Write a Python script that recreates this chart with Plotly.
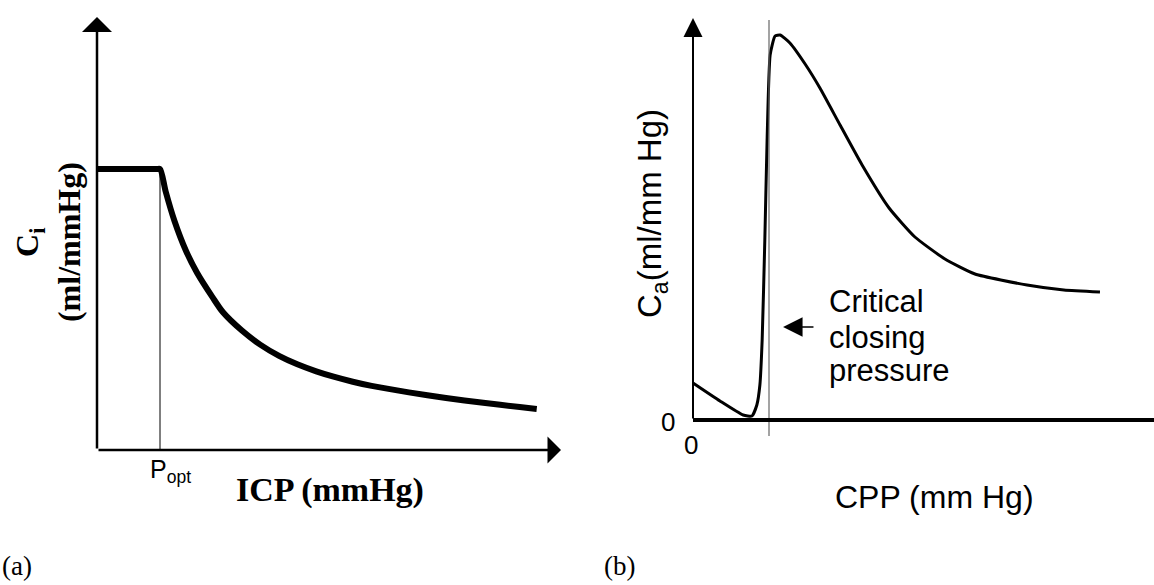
import plotly.graph_objects as go

# ---------------- data ----------------
# Panel (a): intracranial compliance vs ICP (arbitrary units)
icp_a = [0, 9.5, 10, 10.9, 12.3, 14.1, 15.9, 18.3, 20, 23, 25.9, 28.9, 31.8, 34.8,
         37.7, 40.6, 43.6, 49.5, 55.4, 61.3, 67.1, 69.8]
ci_a = [1.0, 1.0, 1.0, 0.92, 0.815, 0.71, 0.63, 0.545, 0.49, 0.425, 0.375, 0.335,
        0.305, 0.28, 0.26, 0.243, 0.228, 0.205, 0.185, 0.168, 0.153, 0.146]
p_opt = 10

# Panel (b): arterial compliance vs CPP
cpp_b = [0, 7.1, 13.2, 15.5, 16.8, 17.6, 18.2, 18.9, 19.5, 20.3, 21.6, 22.9, 25.5,
         29.5, 33.4, 38.7, 44.5, 51.6, 58.4, 66.3, 74.2, 87.9, 97.6, 107.1]
ca_b = [9.25, 4.75, 1.25, 1.0, 3.75, 8.75, 20, 45, 70, 91.25, 96, 96.25, 94.25,
        89, 83, 73.75, 63.75, 53, 45.75, 40.25, 36.5, 33.75, 32.5, 32]
ccp = 20  # critical closing pressure

# ---------------- figure ----------------
W, H = 1154, 585
fig = go.Figure()

fig.add_trace(go.Scatter(x=icp_a, y=ci_a, mode="lines", xaxis="x", yaxis="y",
                         line=dict(color="black", width=6, shape="spline",
                                   smoothing=0.8),
                         showlegend=False, hoverinfo="skip"))
fig.add_trace(go.Scatter(x=cpp_b, y=ca_b, mode="lines", xaxis="x2", yaxis="y2",
                         line=dict(color="black", width=3, shape="spline",
                                   smoothing=0.5),
                         showlegend=False, hoverinfo="skip"))

ax_common = dict(visible=False, showgrid=False, zeroline=False, fixedrange=True)
fig.update_layout(
    width=W, height=H,
    margin=dict(l=0, r=0, t=0, b=0),
    paper_bgcolor="white", plot_bgcolor="white",
    xaxis=dict(domain=[0, 0.5], range=[-97 / 6.3, (577 - 97) / 6.3], **ax_common),
    yaxis=dict(domain=[0, 1], range=[(450 - 585) / 281, 450 / 281], **ax_common),
    xaxis2=dict(domain=[0.5, 1], range=[(577 - 693) / 3.8, (1154 - 693) / 3.8],
                anchor="y2", **ax_common),
    yaxis2=dict(domain=[0, 1], range=[(420 - 585) / 4, 420 / 4], anchor="x2",
                **ax_common),
)

shapes = []
# panel (a) P_opt guide line
shapes.append(dict(type="line", xref="x", yref="y", x0=p_opt, x1=p_opt, y0=0,
                   y1=ci_a[2], line=dict(color="black", width=1)))
# panel (b) critical closing pressure guide line
shapes.append(dict(type="line", xref="x2", yref="y2", x0=ccp, x1=ccp, y0=-4,
                   y1=100, line=dict(color="#666666", width=1.2)))
# panel (b) x axis
shapes.append(dict(type="line", xref="x2", yref="y2", x0=0, x1=130, y0=0,
                   y1=0, line=dict(color="black", width=4)))
fig.update_layout(shapes=shapes)

serif = "Liberation Serif, Times New Roman, serif"
sans = "Liberation Sans, Arial, sans-serif"

ann = []
# axes with arrowheads, panel (a)
ann.append(dict(xref="x", yref="y", axref="x", ayref="y", x=0, y=1.541, ax=0, ay=0,
                text="", showarrow=True, arrowhead=1, arrowwidth=2.5,
                arrowsize=2.0, arrowcolor="black"))
ann.append(dict(xref="x", yref="y", axref="x", ayref="y", x=73.65, y=0, ax=0, ay=0,
                text="", showarrow=True, arrowhead=1, arrowwidth=2.5,
                arrowsize=1.8, arrowcolor="black"))
# y axis with arrowhead, panel (b)
ann.append(dict(xref="x2", yref="y2", axref="x2", ayref="y2", x=0, y=100.5, ax=0,
                ay=0, text="", showarrow=True, arrowhead=2, arrowwidth=2,
                arrowsize=1.9, arrowcolor="black"))
# critical closing pressure arrow
ann.append(dict(xref="x2", yref="y2", axref="x2", ayref="y2", x=23.7, y=23.25,
                ax=32.1, ay=23.25, text="", showarrow=True, arrowhead=2,
                arrowwidth=1.5, arrowsize=2.6, arrowcolor="black"))

# panel (a) texts
ann.append(dict(xref="x", yref="y", x=(30 - 97) / 6.3, y=0.737, text="<b>C<sub>i</sub></b>",
                showarrow=False, textangle=-90,
                font=dict(family=serif, size=32, color="black")))
ann.append(dict(xref="x", yref="y", x=(69 - 97) / 6.3, y=0.740, text="<b>(ml/mmHg)</b>",
                showarrow=False, textangle=-90,
                font=dict(family=serif, size=32, color="black")))
ann.append(dict(xref="x", yref="y", x=8.1, y=-0.0107, text="P<sub>opt</sub>",
                showarrow=False, xanchor="left", yanchor="top",
                font=dict(family=sans, size=25, color="black")))
ann.append(dict(xref="x", yref="y", x=36.98, y=-0.142, text="<b>ICP (mmHg)</b>",
                showarrow=False, font=dict(family=serif, size=34, color="black")))
ann.append(dict(xref="x", yref="y", x=-15.38, y=-0.413, text="(a)",
                showarrow=False, xanchor="left",
                font=dict(family=serif, size=27, color="black")))

# panel (b) texts
ann.append(dict(xref="x2", yref="y2", x=-10.79, y=51.5, text="C<sub>a</sub>(ml/mm Hg)",
                showarrow=False, textangle=-90,
                font=dict(family=sans, size=33, color="black")))
ann.append(dict(xref="x2", yref="y2", x=-6.58, y=-0.5, text="0", showarrow=False,
                font=dict(family=sans, size=26, color="black")))
ann.append(dict(xref="x2", yref="y2", x=-0.53, y=-6.25, text="0", showarrow=False,
                font=dict(family=sans, size=26, color="black")))
ann.append(dict(xref="x2", yref="y2", x=63.68, y=-19.25, text="CPP (mm Hg)",
                showarrow=False, font=dict(family=sans, size=32, color="black")))
for txt, yy in [("Critical", 29.6), ("closing", 20.6), ("pressure", 12.4)]:
    ann.append(dict(xref="x2", yref="y2", x=35.26, y=yy, text=txt, showarrow=False,
                    xanchor="left", font=dict(family=sans, size=31, color="black")))
ann.append(dict(xref="x2", yref="y2", x=-23.95, y=-36.5, text="(b)",
                showarrow=False, xanchor="left",
                font=dict(family=serif, size=27, color="black")))

fig.update_layout(annotations=ann)
fig.write_html("out.html")
